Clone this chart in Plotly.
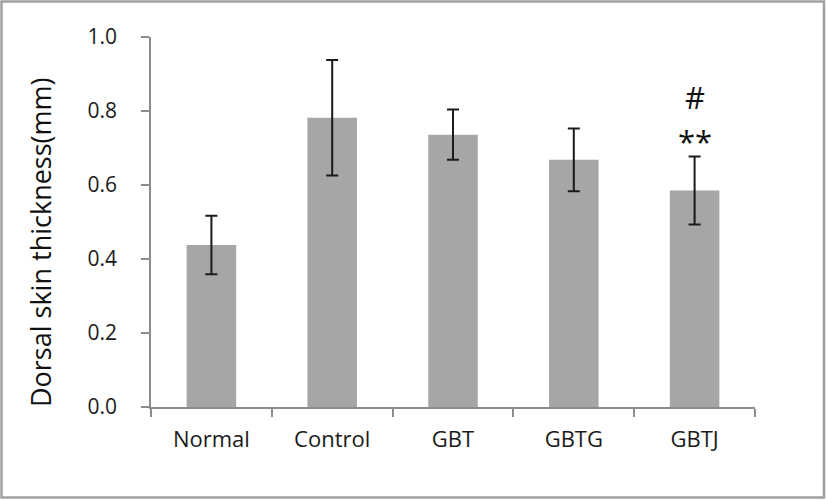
import plotly.graph_objects as go

categories = ["Normal", "Control", "GBT", "GBTG", "GBTJ"]
means = [0.438, 0.782, 0.736, 0.668, 0.585]
errors = [0.079, 0.156, 0.068, 0.085, 0.092]
y_ticks = [0.0, 0.2, 0.4, 0.6, 0.8, 1.0]
y_tick_labels = ["0.0", "0.2", "0.4", "0.6", "0.8", "1.0"]
y_title = "Dorsal skin thickness(mm)"

W, H = 827, 500
ml, mr, mt, mb = 151, 72, 37, 93
FONT = "Open Sans, Liberation Sans, Arial"
pw = W - ml - mr
ph = H - mt - mb

fig = go.Figure()
fig.add_trace(go.Bar(
    x=categories, y=means,
    marker=dict(color="#a6a6a6", line=dict(width=0)),
    error_y=dict(type="data", array=errors, visible=True,
                 color="#1a1a1a", thickness=2, width=6),
    showlegend=False,
))

# significance markers above GBTJ
fig.add_annotation(x="GBTJ", y=means[4] + errors[4], yref="y",
                   text="**", showarrow=False, yshift=-7, yanchor="bottom",
                   font=dict(family=FONT, size=31, color="#111"))
fig.add_annotation(x="GBTJ", y=means[4] + errors[4], yref="y",
                   text="#", showarrow=False, yshift=37, yanchor="bottom",
                   font=dict(family=FONT, size=31, color="#111"))

# y-axis title as rotated annotation
fig.add_annotation(xref="paper", yref="paper",
                   x=(40 - ml) / pw, y=(H - mb - 242) / ph,
                   text=y_title, textangle=-90, showarrow=False,
                   xanchor="center", yanchor="middle",
                   font=dict(family=FONT, size=27, color="#111"))

fig.add_shape(type="rect", xref="paper", yref="paper",
              x0=(-ml + 1.5) / pw, x1=1 + (mr - 3) / pw,
              y0=(-mb + 2.5) / ph, y1=1 + (mt - 1.5) / ph,
              line=dict(color="#a0a0a0", width=2.5))

fig.update_layout(
    width=W, height=H,
    margin=dict(l=ml, r=mr, t=mt, b=mb, autoexpand=False),
    paper_bgcolor="white", plot_bgcolor="white",
    bargap=0.59,
    font=dict(family=FONT, color="#222"),
)
fig.update_yaxes(
    range=[0, 1.0], tickvals=y_ticks, ticktext=y_tick_labels,
    showgrid=False, zeroline=False, automargin=False,
    showline=True, linecolor="#8c8c8c", linewidth=1.5,
    ticks="outside", ticklen=8, tickcolor="#8c8c8c", tickwidth=1.5,
    tickfont=dict(size=21, color="#1a1a1a"),
    ticklabelstandoff=20,
)
fig.update_xaxes(
    showgrid=False, zeroline=False, automargin=False,
    showline=True, linecolor="#8c8c8c", linewidth=1.5,
    ticks="outside", tickson="boundaries", ticklen=8,
    tickcolor="#8c8c8c", tickwidth=1.5,
    tickfont=dict(size=22, color="#1a1a1a"),
    ticklabelstandoff=12,
)

fig.write_html("out.html",
               config={"displayModeBar": False},
               post_script="document.body.style.margin='0';document.body.style.padding='0';")
